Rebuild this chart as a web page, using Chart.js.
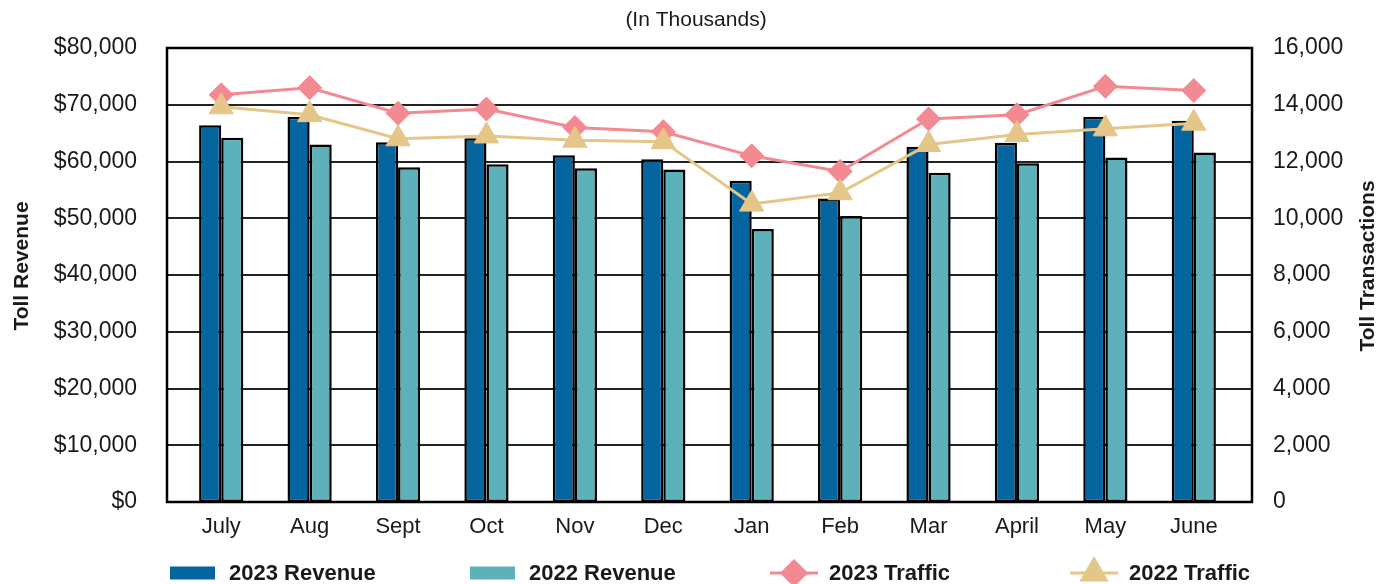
<!DOCTYPE html>
<html>
<head>
<meta charset="utf-8">
<title>Toll Revenue and Toll Transactions</title>
<script src="https://cdn.jsdelivr.net/npm/chart.js@4.4.0/dist/chart.umd.min.js"></script>
<style>
  html, body { margin: 0; padding: 0; background: #fff; }
  canvas { display: block; }
</style>
</head>
<body>
<canvas id="tollChart" width="1392" height="584"></canvas>
<script>
// Monthly figures, fiscal year July - June (in thousands)
const months = ['July', 'Aug', 'Sept', 'Oct', 'Nov', 'Dec', 'Jan', 'Feb', 'Mar', 'April', 'May', 'June'];
const revenue2023 = [66400, 67900, 63400, 64100, 61100, 60400, 56600, 53500, 62600, 63300, 67900, 67200];
const revenue2022 = [64200, 63000, 59000, 59500, 58800, 58600, 48100, 50400, 58000, 59700, 60700, 61600];
const traffic2023 = [14350, 14600, 13700, 13850, 13200, 13050, 12200, 11650, 13500, 13650, 14650, 14500];
const traffic2022 = [13930, 13650, 12800, 12900, 12750, 12700, 10500, 10900, 12600, 12950, 13150, 13350];

const revenueAxis = { min: 0, max: 80000, step: 10000 };
const trafficAxis = { min: 0, max: 16000, step: 2000 };

const COLORS = {
    rev23: '#05659f',
    rev22: '#5db1bb',
    traf23: '#f38991',
    traf22: '#e4c688',
    ink: '#1a1a1a'
};

const FONT = '"Liberation Sans", Arial, sans-serif';

Chart.defaults.font.family = FONT;
Chart.defaults.color = COLORS.ink;

/**
 * Plot frame + horizontal gridlines, slightly wider than the category area
 */
const frameGrid = {
    id: 'frameGrid',
    beforeDatasetsDraw(chart) {
        const { ctx, chartArea, scales } = chart;
        const left = chartArea.left - 10;
        const right = chartArea.right + 14;
        ctx.save();
        ctx.strokeStyle = '#222';
        ctx.lineWidth = 2;
        for (let v = revenueAxis.min + revenueAxis.step; v < revenueAxis.max; v += revenueAxis.step) {
            const y = Math.round(scales.y.getPixelForValue(v));
            ctx.beginPath();
            ctx.moveTo(left, y);
            ctx.lineTo(right, y);
            ctx.stroke();
        }
        ctx.strokeStyle = '#000';
        ctx.lineWidth = 2.5;
        ctx.strokeRect(left, chartArea.top, right - left, chartArea.bottom - chartArea.top);
        ctx.restore();
    }
};

/**
 * Axis titles, both reading bottom to top
 */
const axisTitles = {
    id: 'axisTitles',
    afterDraw(chart) {
        const { ctx, chartArea, width } = chart;
        const midY = (chartArea.top + chartArea.bottom) / 2 - 9;
        const draw = (text, x) => {
            ctx.save();
            ctx.translate(x, midY);
            ctx.rotate(-Math.PI / 2);
            ctx.font = 'bold 21px ' + FONT;
            ctx.fillStyle = COLORS.ink;
            ctx.textAlign = 'center';
            ctx.textBaseline = 'middle';
            ctx.fillText(text, 0, 0);
            ctx.restore();
        };
        draw('Toll Revenue', 22);
        draw('Toll Transactions', width - 24);
    }
};

/**
 * Bottom legend laid out in equal slots; line series show line + marker
 */
const slotLegend = {
    id: 'slotLegend',
    afterDraw(chart) {
        const { ctx, height } = chart;
        const cy = height - 11;
        const startX = 170;
        const slot = 300;
        ctx.save();
        ctx.font = 'bold 22px ' + FONT;
        ctx.textBaseline = 'middle';
        ctx.textAlign = 'left';
        chart.data.datasets.forEach((ds, i) => {
            const x = startX + i * slot;
            if (ds.type === 'line') {
                ctx.strokeStyle = ds.borderColor;
                ctx.lineWidth = ds.borderWidth;
                ctx.beginPath();
                ctx.moveTo(x, cy);
                ctx.lineTo(x + 48, cy);
                ctx.stroke();
                ctx.fillStyle = ds.pointBackgroundColor;
                ctx.strokeStyle = ds.pointBackgroundColor;
                Chart.helpers.drawPoint(ctx, {
                    pointStyle: ds.pointStyle,
                    radius: ds.pointRadius,
                    rotation: 0,
                    borderWidth: 1
                }, x + 24, cy);
            } else {
                ctx.fillStyle = ds.backgroundColor;
                ctx.fillRect(x, cy - 6.5, 45, 13);
            }
            ctx.fillStyle = COLORS.ink;
            ctx.fillText(ds.label, x + 59, cy + 1);
        });
        ctx.restore();
    }
};

const barStyle = (color) => ({
    backgroundColor: color,
    borderColor: '#000',
    borderWidth: 2.5,
    borderSkipped: false,
    categoryPercentage: 0.5,
    barPercentage: 1.0,
    yAxisID: 'y',
    order: 2
});

const lineStyle = (color, pointStyle, radius, order) => ({
    type: 'line',
    borderColor: color,
    backgroundColor: color,
    pointBackgroundColor: color,
    pointBorderColor: color,
    borderWidth: 3,
    pointStyle: pointStyle,
    pointRadius: radius,
    pointBorderWidth: 1,
    tension: 0,
    fill: false,
    yAxisID: 'y1',
    order: order
});

// fixed axis width; keep the label padding from pushing the plot down
const fitVertical = (width) => (scale) => {
    scale.width = width;
    scale.paddingTop = 12;
    scale.paddingBottom = 12;
};

const noGrid = { display: false, drawTicks: false };

new Chart(document.getElementById('tollChart'), {
    type: 'bar',
    data: {
        labels: months,
        datasets: [
            { label: '2023 Revenue', data: revenue2023, ...barStyle(COLORS.rev23) },
            { label: '2022 Revenue', data: revenue2022, ...barStyle(COLORS.rev22) },
            { label: '2023 Traffic', data: traffic2023, ...lineStyle(COLORS.traf23, 'rectRot', 12, 1) },
            { label: '2022 Traffic', data: traffic2022, ...lineStyle(COLORS.traf22, 'triangle', 14, 0) }
        ]
    },
    options: {
        responsive: false,
        animation: false,
        layout: { padding: 0 },
        plugins: {
            legend: { display: false },
            tooltip: { enabled: false },
            title: {
                display: true,
                text: '(In Thousands)',
                color: COLORS.ink,
                font: { size: 21, weight: 'normal', lineHeight: 1.2 },
                padding: { top: 7.4, bottom: 15.4 }
            }
        },
        scales: {
            x: {
                offset: true,
                grid: noGrid,
                border: { display: false },
                ticks: { font: { size: 22, lineHeight: 1.2 }, padding: 12, maxRotation: 0 },
                afterFit: (scale) => { scale.height = 82; }
            },
            y: {
                position: 'left',
                min: revenueAxis.min,
                max: revenueAxis.max,
                grid: noGrid,
                border: { display: false },
                ticks: {
                    stepSize: revenueAxis.step,
                    padding: 40,
                    font: { size: 23 },
                    callback: (v) => '$' + v.toLocaleString('en-US')
                },
                afterFit: fitVertical(177)
            },
            y1: {
                position: 'right',
                min: trafficAxis.min,
                max: trafficAxis.max,
                grid: noGrid,
                border: { display: false },
                ticks: {
                    stepSize: trafficAxis.step,
                    padding: 35,
                    font: { size: 23 },
                    callback: (v) => v.toLocaleString('en-US')
                },
                afterFit: fitVertical(154)
            }
        }
    },
    plugins: [frameGrid, axisTitles, slotLegend]
});
</script>
</body>
</html>
